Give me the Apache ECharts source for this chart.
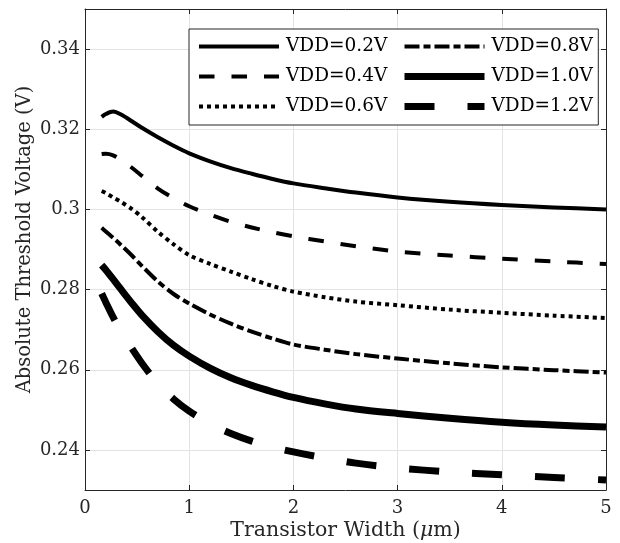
<!DOCTYPE html>
<html>
<head>
<meta charset="utf-8">
<script src="https://cdn.jsdelivr.net/npm/echarts@6/dist/echarts.min.js"></script>
<style>
html,body{margin:0;padding:0;background:#fff;}
#chart{width:620px;height:543px;}
</style>
</head>
<body>
<div id="chart"></div>
<script>
// ---- data ----
const widths = [0.16, 0.2, 0.27, 0.35, 0.45, 0.55, 0.7, 0.85, 1.0, 1.2, 1.4, 1.6, 1.8, 2.0, 2.3, 2.6, 3.0, 3.5, 4.0, 4.5, 5.0];
const seriesNames = ['VDD=0.2V', 'VDD=0.4V', 'VDD=0.6V', 'VDD=0.8V', 'VDD=1.0V', 'VDD=1.2V'];
const vdd02 = [0.3231, 0.3238, 0.3244, 0.3236, 0.3220, 0.3203, 0.3180, 0.3159, 0.3140, 0.3120, 0.3103, 0.3089, 0.3076, 0.3065, 0.3053, 0.3042, 0.3030, 0.3019, 0.3011, 0.3005, 0.3000];
const vdd04 = [0.3138, 0.3139, 0.3135, 0.3123, 0.3104, 0.3083, 0.3052, 0.3028, 0.3008, 0.2987, 0.2969, 0.2955, 0.2943, 0.2933, 0.2920, 0.2908, 0.2895, 0.2885, 0.2877, 0.2870, 0.2864];
const vdd06 = [0.3046, 0.3041, 0.3030, 0.3018, 0.3001, 0.2980, 0.2944, 0.2913, 0.2886, 0.2864, 0.2845, 0.2826, 0.2809, 0.2795, 0.2781, 0.2770, 0.2761, 0.2750, 0.2742, 0.2735, 0.2729];
const vdd08 = [0.2954, 0.2945, 0.2929, 0.2910, 0.2885, 0.2858, 0.2820, 0.2789, 0.2765, 0.2738, 0.2715, 0.2695, 0.2678, 0.2663, 0.2650, 0.2639, 0.2628, 0.2616, 0.2606, 0.2599, 0.2593];
const vdd10 = [0.2861, 0.2849, 0.2826, 0.2799, 0.2766, 0.2735, 0.2695, 0.2661, 0.2634, 0.2604, 0.2580, 0.2561, 0.2545, 0.2531, 0.2515, 0.2502, 0.2491, 0.2479, 0.2469, 0.2462, 0.2457];
const vdd12 = [0.2790, 0.2768, 0.2731, 0.2694, 0.2653, 0.2615, 0.2565, 0.2527, 0.2497, 0.2465, 0.2441, 0.2422, 0.2407, 0.2395, 0.2380, 0.2367, 0.2355, 0.2345, 0.2338, 0.2331, 0.2325];
const xTicks = [0, 1, 2, 3, 4, 5];
const yTicks = [0.24, 0.26, 0.28, 0.3, 0.32, 0.34];

const allValues = [vdd02, vdd04, vdd06, vdd08, vdd10, vdd12];
const lineStyles = [
  {width: 4, type: 'solid'},
  {width: 4, type: [15.5, 17]},
  {width: 4, type: [4, 4]},
  {width: 4, type: [15, 4, 7, 4]},
  {width: 7, type: 'solid'},
  {width: 7, type: [30, 33]}
];

const FONT = 'DejaVu Serif';
const AX = '#262626';

const chart = echarts.init(document.getElementById('chart'), null, {renderer: 'canvas'});

const series = allValues.map((vals, i) => ({
  name: seriesNames[i],
  type: 'line',
  xAxisIndex: 0,
  yAxisIndex: 0,
  data: widths.map((w, j) => [w, vals[j]]),
  symbol: 'none',
  smooth: 0.3,
  lineStyle: {
    color: '#000',
    width: lineStyles[i].width,
    type: lineStyles[i].type,
    cap: 'butt',
    join: 'round'
  },
  itemStyle: {color: '#000'},
  animation: false,
  z: 3
}));

const fmtY = v => String(+(+v).toFixed(2));

const legendCommon = {
  orient: 'vertical',
  itemWidth: 80,
  itemHeight: 14,
  itemGap: 11,
  textStyle: {fontFamily: FONT, fontSize: 18.5, color: '#000', lineHeight: 14, padding: [0, 0, 0, 2]},
  lineStyle: {width: 'inherit', type: 'inherit'},
  itemStyle: {opacity: 0},
  selectedMode: false
};

chart.setOption({
  animation: false,
  backgroundColor: '#fff',
  grid: {left: 85, right: 14, top: 9, bottom: 53, containLabel: false, outerBoundsMode: 'none'},
  legend: [
    Object.assign({}, legendCommon, {
      data: seriesNames.slice(0, 3),
      left: 189, top: 29,
      padding: [8, 211, 9, 8],
      borderColor: AX, borderWidth: 1, backgroundColor: '#fff',
      z: 5
    }),
    Object.assign({}, legendCommon, {
      data: seriesNames.slice(3),
      left: 401, top: 37,
      padding: 0,
      z: 6
    })
  ],
  xAxis: [
    {
      type: 'value', position: 'bottom', min: 0, max: 5, interval: 1,
      name: 'Transistor Width ({i|μ}m)',
      nameLocation: 'middle', nameGap: 31, nameMoveOverlap: false,
      nameTextStyle: {fontFamily: FONT, fontSize: 20.5, lineHeight: 20, color: AX,
        rich: {i: {fontFamily: FONT, fontSize: 20.5, lineHeight: 20, fontStyle: 'italic', color: AX}}},
      axisLine: {show: true, onZero: false, lineStyle: {color: AX, width: 1}},
      axisTick: {show: true, inside: true, length: 5, lineStyle: {color: AX}},
      axisLabel: {fontFamily: FONT, fontSize: 18, color: AX, margin: 9},
      splitLine: {show: true, lineStyle: {color: '#e3e3e3', width: 1}}
    },
    {
      type: 'value', position: 'top', min: 0, max: 5, interval: 1,
      axisLine: {show: true, onZero: false, lineStyle: {color: AX, width: 1}},
      axisTick: {show: true, inside: true, length: 5, lineStyle: {color: AX}},
      axisLabel: {show: false},
      splitLine: {show: false}
    }
  ],
  yAxis: [
    {
      type: 'value', position: 'left', min: 0.23, max: 0.35,
      name: 'Absolute Threshold Voltage (V)',
      nameLocation: 'middle', nameGap: 50, nameRotate: 90, nameMoveOverlap: false,
      nameTextStyle: {fontFamily: FONT, fontSize: 19.5, lineHeight: 20, color: AX, padding: [0, 0, 0, 20]},
      axisLine: {show: true, onZero: false, lineStyle: {color: AX, width: 1}},
      axisTick: {show: true, inside: true, length: 5, customValues: yTicks, lineStyle: {color: AX}},
      axisLabel: {fontFamily: FONT, fontSize: 18, color: AX, margin: 5, customValues: yTicks, formatter: fmtY},
      splitLine: {show: true, lineStyle: {color: '#e3e3e3', width: 1}}
    },
    {
      type: 'value', position: 'right', min: 0.23, max: 0.35,
      axisLine: {show: true, onZero: false, lineStyle: {color: AX, width: 1}},
      axisTick: {show: true, inside: true, length: 5, customValues: yTicks, lineStyle: {color: AX}},
      axisLabel: {show: false},
      splitLine: {show: false}
    }
  ],
  series: series
});
</script>
</body>
</html>
